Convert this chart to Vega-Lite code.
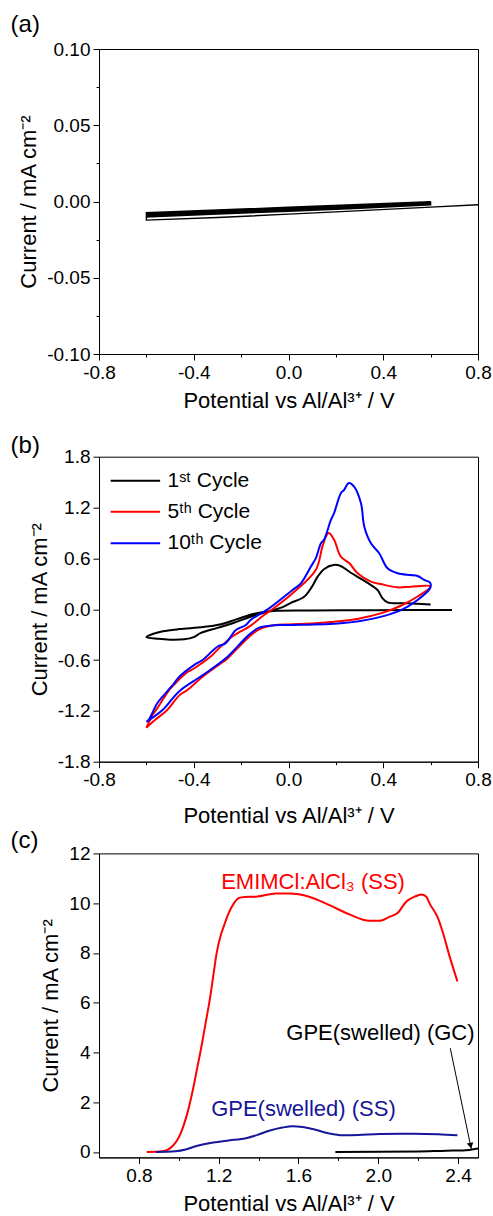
{
  "$schema": "https://vega.github.io/schema/vega-lite/v6.json",
  "padding": {"left": 10, "top": 12, "right": 0, "bottom": 0},
  "spacing": 0.7,
  "config": {
    "font": "Liberation Sans",
    "view": {"stroke": "#000", "strokeWidth": 1},
    "axis": {"domainColor": "#000", "tickColor": "#000", "labelColor": "#000", "titleColor": "#000", "labelFontSize": 19, "titleFontSize": 22, "titleFontWeight": "normal", "grid": false, "labelPadding": 3, "labelFlush": false, "labelOverlap": false, "domainWidth": 1, "tickWidth": 1, "labelFont": "Liberation Sans", "titleFont": "Liberation Sans"},
    "title": {"fontSize": 24, "fontWeight": "normal", "anchor": "start", "frame": "group", "color": "#000", "font": "Liberation Sans"}
  },
  "resolve": {"scale": {"x": "independent", "y": "independent", "color": "independent"}},
  "datasets": {
    "a": [
      {"i":0,"V":0.8,"I":-0.0021},{"i":1,"V":0.6,"I":-0.0037},{"i":2,"V":0.2,"I":-0.0068},{"i":3,"V":0,"I":-0.0083},{"i":4,"V":-0.3,"I":-0.0105},{"i":5,"V":-0.6,"I":-0.0122},
      {"i":6,"V":-0.6,"I":-0.0100},{"i":7,"V":-0.3,"I":-0.0080},{"i":8,"V":0,"I":-0.0060},{"i":9,"V":0.3,"I":-0.0040},{"i":10,"V":0.6,"I":-0.0020},
      {"i":11,"V":0.6,"I":-0.0022},{"i":12,"V":0.3,"I":-0.0044},{"i":13,"V":0,"I":-0.0064},{"i":14,"V":-0.3,"I":-0.0083},{"i":15,"V":-0.6,"I":-0.0102},
      {"i":16,"V":-0.6,"I":-0.0090},{"i":17,"V":-0.3,"I":-0.0071},{"i":18,"V":0,"I":-0.0052},{"i":19,"V":0.3,"I":-0.0033},{"i":20,"V":0.6,"I":-0.0014},
      {"i":21,"V":0.6,"I":-0.0016},{"i":22,"V":0.3,"I":-0.0036},{"i":23,"V":0,"I":-0.0056},{"i":24,"V":-0.3,"I":-0.0076},{"i":25,"V":-0.6,"I":-0.0094},
      {"i":26,"V":-0.6,"I":-0.0084},{"i":27,"V":-0.3,"I":-0.0066},{"i":28,"V":0,"I":-0.0047},{"i":29,"V":0.3,"I":-0.0028},{"i":30,"V":0.6,"I":-0.0009},
      {"i":31,"V":0.6,"I":-0.0011},{"i":32,"V":0.3,"I":-0.0030},{"i":33,"V":0,"I":-0.0050},{"i":34,"V":-0.3,"I":-0.0070},{"i":35,"V":-0.6,"I":-0.0088},
      {"i":36,"V":-0.6,"I":-0.0078},{"i":37,"V":-0.3,"I":-0.0060},{"i":38,"V":0,"I":-0.0042},{"i":39,"V":0.3,"I":-0.0023},{"i":40,"V":0.6,"I":-0.0004},
      {"i":41,"V":0.6,"I":-0.0006},{"i":42,"V":0.3,"I":-0.0025},{"i":43,"V":0,"I":-0.0044},{"i":44,"V":-0.3,"I":-0.0063},{"i":45,"V":-0.6,"I":-0.0082},
      {"i":46,"V":-0.6,"I":-0.0074},{"i":47,"V":-0.3,"I":-0.0056},{"i":48,"V":0,"I":-0.0038},{"i":49,"V":0.3,"I":-0.0019},{"i":50,"V":0.6,"I":-0.0001}
    ],
    "b": [
      {"s":"1st","i":0,"V":0.69,"I":-0.008},{"s":"1st","i":1,"V":0.5,"I":-0.010},{"s":"1st","i":2,"V":0.3,"I":-0.012},{"s":"1st","i":3,"V":0.1,"I":-0.015},{"s":"1st","i":4,"V":-0.05,"I":-0.018},{"s":"1st","i":5,"V":-0.1,"I":-0.03},{"s":"1st","i":6,"V":-0.15,"I":-0.057},{"s":"1st","i":7,"V":-0.22,"I":-0.12},{"s":"1st","i":8,"V":-0.29,"I":-0.18},{"s":"1st","i":9,"V":-0.36,"I":-0.21},{"s":"1st","i":10,"V":-0.46,"I":-0.235},{"s":"1st","i":11,"V":-0.53,"I":-0.26},{"s":"1st","i":12,"V":-0.57,"I":-0.29},{"s":"1st","i":13,"V":-0.6,"I":-0.33},{"s":"1st","i":14,"V":-0.55,"I":-0.35},{"s":"1st","i":15,"V":-0.5,"I":-0.36},{"s":"1st","i":16,"V":-0.44,"I":-0.355},{"s":"1st","i":17,"V":-0.4,"I":-0.33},{"s":"1st","i":18,"V":-0.37,"I":-0.28},{"s":"1st","i":19,"V":-0.3,"I":-0.22},{"s":"1st","i":20,"V":-0.23,"I":-0.16},{"s":"1st","i":21,"V":-0.15,"I":-0.08},{"s":"1st","i":22,"V":-0.09,"I":-0.03},{"s":"1st","i":23,"V":-0.02,"I":0.03},{"s":"1st","i":24,"V":0.01,"I":0.075},{"s":"1st","i":25,"V":0.066,"I":0.148},{"s":"1st","i":26,"V":0.1,"I":0.27},{"s":"1st","i":27,"V":0.123,"I":0.384},{"s":"1st","i":28,"V":0.151,"I":0.475},{"s":"1st","i":29,"V":0.19,"I":0.522},{"s":"1st","i":30,"V":0.22,"I":0.51},{"s":"1st","i":31,"V":0.263,"I":0.43},{"s":"1st","i":32,"V":0.334,"I":0.31},{"s":"1st","i":33,"V":0.376,"I":0.227},{"s":"1st","i":34,"V":0.397,"I":0.128},{"s":"1st","i":35,"V":0.418,"I":0.081},{"s":"1st","i":36,"V":0.5,"I":0.07},{"s":"1st","i":37,"V":0.6,"I":0.055},
      {"s":"5th","i":0,"V":-0.6,"I":-1.40},{"s":"5th","i":1,"V":-0.574,"I":-1.25},{"s":"5th","i":2,"V":-0.554,"I":-1.17},{"s":"5th","i":3,"V":-0.504,"I":-0.954},{"s":"5th","i":4,"V":-0.483,"I":-0.89},{"s":"5th","i":5,"V":-0.434,"I":-0.757},{"s":"5th","i":6,"V":-0.399,"I":-0.70},{"s":"5th","i":7,"V":-0.321,"I":-0.541},{"s":"5th","i":8,"V":-0.30,"I":-0.48},{"s":"5th","i":9,"V":-0.236,"I":-0.32},{"s":"5th","i":10,"V":-0.2,"I":-0.26},{"s":"5th","i":11,"V":-0.166,"I":-0.206},{"s":"5th","i":12,"V":-0.103,"I":-0.069},{"s":"5th","i":13,"V":-0.082,"I":-0.03},{"s":"5th","i":14,"V":0.017,"I":0.187},{"s":"5th","i":15,"V":0.115,"I":0.462},{"s":"5th","i":16,"V":0.143,"I":0.738},{"s":"5th","i":17,"V":0.162,"I":0.88},{"s":"5th","i":18,"V":0.171,"I":0.90},{"s":"5th","i":19,"V":0.193,"I":0.817},{"s":"5th","i":20,"V":0.221,"I":0.62},{"s":"5th","i":21,"V":0.257,"I":0.542},{"s":"5th","i":22,"V":0.292,"I":0.424},{"s":"5th","i":23,"V":0.348,"I":0.325},{"s":"5th","i":24,"V":0.389,"I":0.297},{"s":"5th","i":25,"V":0.461,"I":0.258},{"s":"5th","i":26,"V":0.516,"I":0.266},{"s":"5th","i":27,"V":0.6,"I":0.27},
      {"s":"5th","i":28,"V":0.545,"I":0.15},{"s":"5th","i":29,"V":0.474,"I":0.041},{"s":"5th","i":30,"V":0.403,"I":-0.037},{"s":"5th","i":31,"V":0.333,"I":-0.089},{"s":"5th","i":32,"V":0.262,"I":-0.128},{"s":"5th","i":33,"V":0.192,"I":-0.148},{"s":"5th","i":34,"V":0.115,"I":-0.167},{"s":"5th","i":35,"V":0.0,"I":-0.18},{"s":"5th","i":36,"V":-0.061,"I":-0.19},{"s":"5th","i":37,"V":-0.124,"I":-0.238},{"s":"5th","i":38,"V":-0.166,"I":-0.324},{"s":"5th","i":39,"V":-0.188,"I":-0.384},{"s":"5th","i":40,"V":-0.23,"I":-0.502},{"s":"5th","i":41,"V":-0.265,"I":-0.6},{"s":"5th","i":42,"V":-0.286,"I":-0.639},{"s":"5th","i":43,"V":-0.363,"I":-0.797},{"s":"5th","i":44,"V":-0.427,"I":-0.954},{"s":"5th","i":45,"V":-0.462,"I":-1.02},{"s":"5th","i":46,"V":-0.512,"I":-1.19},{"s":"5th","i":47,"V":-0.56,"I":-1.3},{"s":"5th","i":48,"V":-0.6,"I":-1.40},
      {"s":"10th","i":0,"V":-0.6,"I":-1.33},{"s":"10th","i":1,"V":-0.589,"I":-1.30},{"s":"10th","i":2,"V":-0.554,"I":-1.11},{"s":"10th","i":3,"V":-0.532,"I":-1.033},{"s":"10th","i":4,"V":-0.483,"I":-0.875},{"s":"10th","i":5,"V":-0.462,"I":-0.80},{"s":"10th","i":6,"V":-0.399,"I":-0.66},{"s":"10th","i":7,"V":-0.363,"I":-0.6},{"s":"10th","i":8,"V":-0.30,"I":-0.443},{"s":"10th","i":9,"V":-0.265,"I":-0.40},{"s":"10th","i":10,"V":-0.222,"I":-0.246},{"s":"10th","i":11,"V":-0.18,"I":-0.187},{"s":"10th","i":12,"V":-0.16,"I":-0.128},{"s":"10th","i":13,"V":-0.082,"I":0.01},{"s":"10th","i":14,"V":0.017,"I":0.227},{"s":"10th","i":15,"V":0.051,"I":0.30},{"s":"10th","i":16,"V":0.094,"I":0.50},{"s":"10th","i":17,"V":0.115,"I":0.60},{"s":"10th","i":18,"V":0.137,"I":0.778},{"s":"10th","i":19,"V":0.15,"I":0.82},{"s":"10th","i":20,"V":0.179,"I":1.053},{"s":"10th","i":21,"V":0.192,"I":1.131},{"s":"10th","i":22,"V":0.221,"I":1.368},{"s":"10th","i":23,"V":0.234,"I":1.406},{"s":"10th","i":24,"V":0.255,"I":1.49},{"s":"10th","i":25,"V":0.277,"I":1.446},{"s":"10th","i":26,"V":0.306,"I":1.25},{"s":"10th","i":27,"V":0.32,"I":0.974},{"s":"10th","i":28,"V":0.348,"I":0.778},{"s":"10th","i":29,"V":0.383,"I":0.66},{"s":"10th","i":30,"V":0.418,"I":0.483},{"s":"10th","i":31,"V":0.461,"I":0.424},{"s":"10th","i":32,"V":0.516,"I":0.403},{"s":"10th","i":33,"V":0.545,"I":0.392},{"s":"10th","i":34,"V":0.573,"I":0.345},{"s":"10th","i":35,"V":0.598,"I":0.313},
      {"s":"10th","i":36,"V":0.598,"I":0.25},{"s":"10th","i":37,"V":0.545,"I":0.109},{"s":"10th","i":38,"V":0.475,"I":-0.01},{"s":"10th","i":39,"V":0.362,"I":-0.108},{"s":"10th","i":40,"V":0.221,"I":-0.167},{"s":"10th","i":41,"V":0.01,"I":-0.187},{"s":"10th","i":42,"V":-0.06,"I":-0.19},{"s":"10th","i":43,"V":-0.124,"I":-0.218},{"s":"10th","i":44,"V":-0.166,"I":-0.30},{"s":"10th","i":45,"V":-0.265,"I":-0.58},{"s":"10th","i":46,"V":-0.363,"I":-0.78},{"s":"10th","i":47,"V":-0.462,"I":-0.97},{"s":"10th","i":48,"V":-0.532,"I":-1.19},{"s":"10th","i":49,"V":-0.6,"I":-1.33}
    ],
    "bleg": [
      {"s":"1st","V":-0.751,"V2":-0.542,"I":1.517,"T":-0.511,"label":"1ˢᵗ Cycle"},
      {"s":"5th","V":-0.751,"V2":-0.542,"I":1.151,"T":-0.511,"label":"5ᵗʰ Cycle"},
      {"s":"10th","V":-0.751,"V2":-0.542,"I":0.778,"T":-0.511,"label":"10ᵗʰ Cycle"}
    ],
    "c": [
      {"s":"EMIM","V":0.839,"I":0.0},{"s":"EMIM","V":0.918,"I":0.03},{"s":"EMIM","V":0.968,"I":0.23},{"s":"EMIM","V":1.01,"I":0.76},{"s":"EMIM","V":1.043,"I":1.56},{"s":"EMIM","V":1.068,"I":2.4},{"s":"EMIM","V":1.093,"I":3.4},{"s":"EMIM","V":1.115,"I":4.3},{"s":"EMIM","V":1.135,"I":5.2},{"s":"EMIM","V":1.157,"I":6.2},{"s":"EMIM","V":1.175,"I":7.2},{"s":"EMIM","V":1.19,"I":8.0},{"s":"EMIM","V":1.21,"I":8.7},{"s":"EMIM","V":1.227,"I":9.1},{"s":"EMIM","V":1.25,"I":9.6},{"s":"EMIM","V":1.277,"I":10.0},{"s":"EMIM","V":1.3,"I":10.2},{"s":"EMIM","V":1.33,"I":10.25},{"s":"EMIM","V":1.386,"I":10.26},{"s":"EMIM","V":1.487,"I":10.39},{"s":"EMIM","V":1.554,"I":10.39},{"s":"EMIM","V":1.654,"I":10.26},{"s":"EMIM","V":1.755,"I":9.92},{"s":"EMIM","V":1.855,"I":9.55},{"s":"EMIM","V":1.956,"I":9.29},{"s":"EMIM","V":2.006,"I":9.29},{"s":"EMIM","V":2.056,"I":9.45},{"s":"EMIM","V":2.098,"I":9.61},{"s":"EMIM","V":2.14,"I":10.06},{"s":"EMIM","V":2.182,"I":10.26},{"s":"EMIM","V":2.216,"I":10.35},{"s":"EMIM","V":2.241,"I":10.26},{"s":"EMIM","V":2.257,"I":9.99},{"s":"EMIM","V":2.3,"I":9.39},{"s":"EMIM","V":2.325,"I":8.79},{"s":"EMIM","V":2.358,"I":7.85},{"s":"EMIM","V":2.397,"I":6.85},
      {"s":"GPE_SS","V":0.884,"I":0.0},{"s":"GPE_SS","V":0.984,"I":0.03},{"s":"GPE_SS","V":1.035,"I":0.1},{"s":"GPE_SS","V":1.085,"I":0.23},{"s":"GPE_SS","V":1.185,"I":0.39},{"s":"GPE_SS","V":1.25,"I":0.46},{"s":"GPE_SS","V":1.336,"I":0.55},{"s":"GPE_SS","V":1.40,"I":0.7},{"s":"GPE_SS","V":1.453,"I":0.85},{"s":"GPE_SS","V":1.52,"I":0.98},{"s":"GPE_SS","V":1.571,"I":1.03},{"s":"GPE_SS","V":1.62,"I":1.0},{"s":"GPE_SS","V":1.671,"I":0.92},{"s":"GPE_SS","V":1.75,"I":0.75},{"s":"GPE_SS","V":1.822,"I":0.67},{"s":"GPE_SS","V":1.9,"I":0.68},{"s":"GPE_SS","V":2.006,"I":0.72},{"s":"GPE_SS","V":2.174,"I":0.73},{"s":"GPE_SS","V":2.3,"I":0.71},{"s":"GPE_SS","V":2.397,"I":0.67},
      {"s":"GPE_GC","V":1.785,"I":0.0},{"s":"GPE_GC","V":2.0,"I":0.01},{"s":"GPE_GC","V":2.2,"I":0.02},{"s":"GPE_GC","V":2.341,"I":0.05},{"s":"GPE_GC","V":2.425,"I":0.06},{"s":"GPE_GC","V":2.5,"I":0.14}
    ],
    "clab": [
      {"s":"EMIM","V":1.673,"I":10.57,"label":"EMIMCl:AlCl₃ (SS)"},
      {"s":"GPE_GC","V":2.011,"I":4.48,"label":"GPE(swelled) (GC)"},
      {"s":"GPE_SS","V":1.625,"I":1.43,"label":"GPE(swelled) (SS)"}
    ],
    "carrow": [{"V":2.361,"I":4.17,"V2":2.467,"I2":0.09}],
    "chead": [{"V":2.463,"I":0.25}]
  },
  "vconcat": [
    {
      "title": {"text": "(a)", "offset": 3, "dx": -88.4},
      "width": 379, "height": 305,
      "data": {"name": "a"},
      "mark": {"type": "line", "color": "#000", "strokeWidth": 1.4},
      "encoding": {
        "x": {"field": "V", "type": "quantitative", "scale": {"domain": [-0.8, 0.8], "nice": false},
          "axis": {"title": ["Potential vs Al/Al³⁺ / V", " "], "titleLineHeight": 21.2, "titlePadding": 8, "values": [-0.8,-0.6,-0.4,-0.2,0,0.2,0.4,0.6,0.8],
            "labelExpr": "round(datum.value*10) % 4 == 0 ? replace(format(datum.value, '.1f'), '−', '-') : ''",
            "tickSize": {"condition": {"test": "round(datum.value*10) % 4 == 0", "value": 6}, "value": 3}}},
        "y": {"field": "I", "type": "quantitative", "scale": {"domain": [-0.1, 0.1], "nice": false},
          "axis": {"title": "Current / mA cm⁻²", "titlePadding": 6, "values": [-0.1,-0.075,-0.05,-0.025,0,0.025,0.05,0.075,0.1],
            "labelExpr": "round(datum.value*40) % 2 == 0 ? replace(format(datum.value, '.2f'), '−', '-') : ''",
            "tickSize": {"condition": {"test": "round(datum.value*40) % 2 == 0", "value": 6}, "value": 3}}},
        "order": {"field": "i", "type": "quantitative"}
      }
    },
    {
      "title": {"text": "(b)", "offset": -10.5, "dx": -88.4},
      "width": 379, "height": 305,
      "layer": [
        {
          "data": {"name": "b"},
          "mark": {"type": "line", "strokeWidth": 2, "interpolate": "catmull-rom"},
          "encoding": {
            "x": {"field": "V", "type": "quantitative", "scale": {"domain": [-0.8, 0.8], "nice": false},
              "axis": {"title": "Potential vs Al/Al³⁺ / V", "titlePadding": 16, "values": [-0.8,-0.6,-0.4,-0.2,0,0.2,0.4,0.6,0.8],
                "labelExpr": "round(datum.value*10) % 4 == 0 ? replace(format(datum.value, '.1f'), '−', '-') : ''",
                "tickSize": {"condition": {"test": "round(datum.value*10) % 4 == 0", "value": 6}, "value": 3}}},
            "y": {"field": "I", "type": "quantitative", "scale": {"domain": [-1.8, 1.8], "nice": false},
              "axis": {"title": "Current / mA cm⁻²", "titlePadding": 6, "values": [-1.8,-1.5,-1.2,-0.9,-0.6,-0.3,0,0.3,0.6,0.9,1.2,1.5,1.8],
                "labelExpr": "round(datum.value*10) % 6 == 0 ? replace(format(datum.value, '.1f'), '−', '-') : ''",
                "tickSize": {"condition": {"test": "round(datum.value*10) % 6 == 0", "value": 6}, "value": 3}}},
            "color": {"field": "s", "type": "nominal", "scale": {"domain": ["1st", "5th", "10th"], "range": ["#000000", "#ff0000", "#0000ff"]}, "legend": null},
            "detail": {"field": "s"},
            "order": {"field": "i", "type": "quantitative"}
          }
        },
        {
          "data": {"name": "bleg"},
          "mark": {"type": "rule", "strokeWidth": 2},
          "encoding": {
            "x": {"field": "V", "type": "quantitative"},
            "x2": {"field": "V2"},
            "y": {"field": "I", "type": "quantitative"},
            "color": {"field": "s", "type": "nominal", "scale": {"domain": ["1st", "5th", "10th"], "range": ["#000000", "#ff0000", "#0000ff"]}, "legend": null}
          }
        },
        {
          "data": {"name": "bleg"},
          "mark": {"type": "text", "align": "left", "baseline": "middle", "fontSize": 21, "font": "Liberation Sans", "color": "#000"},
          "encoding": {
            "x": {"field": "T", "type": "quantitative"},
            "y": {"field": "I", "type": "quantitative"},
            "text": {"field": "label"}
          }
        }
      ]
    },
    {
      "title": {"text": "(c)", "offset": -8.5, "dx": -88.4},
      "width": 379, "height": 304,
      "layer": [
        {
          "data": {"name": "c"},
          "mark": {"type": "line", "strokeWidth": 2, "interpolate": "monotone"},
          "encoding": {
            "x": {"field": "V", "type": "quantitative", "scale": {"domain": [0.6, 2.5], "nice": false},
              "axis": {"title": "Potential vs Al/Al³⁺ / V", "titlePadding": 8, "values": [0.8,1.0,1.2,1.4,1.6,1.8,2.0,2.2,2.4],
                "labelExpr": "round(datum.value*10) % 4 == 0 ? format(datum.value, '.1f') : ''",
                "tickSize": {"condition": {"test": "round(datum.value*10) % 4 == 0", "value": 6}, "value": 3}}},
            "y": {"field": "I", "type": "quantitative", "scale": {"domain": [-0.22, 12], "nice": false},
              "axis": {"title": "Current / mA cm⁻²", "titlePadding": 6, "values": [0,1,2,3,4,5,6,7,8,9,10,11,12],
                "labelExpr": "datum.value % 2 == 0 ? format(datum.value, 'd') : ''",
                "tickSize": {"condition": {"test": "datum.value % 2 == 0", "value": 6}, "value": 3}}},
            "color": {"field": "s", "type": "nominal", "scale": {"domain": ["EMIM", "GPE_SS", "GPE_GC"], "range": ["#ff0000", "#16169a", "#000000"]}, "legend": null}
          }
        },
        {
          "data": {"name": "clab"},
          "mark": {"type": "text", "align": "center", "baseline": "alphabetic", "fontSize": 22, "font": "Liberation Sans"},
          "encoding": {
            "x": {"field": "V", "type": "quantitative"},
            "y": {"field": "I", "type": "quantitative"},
            "text": {"field": "label"},
            "color": {"field": "s", "type": "nominal", "scale": {"domain": ["EMIM", "GPE_SS", "GPE_GC"], "range": ["#ff0000", "#16169a", "#000000"]}, "legend": null}
          }
        },
        {
          "data": {"name": "carrow"},
          "mark": {"type": "rule", "color": "#000", "strokeWidth": 1},
          "encoding": {
            "x": {"field": "V", "type": "quantitative"},
            "y": {"field": "I", "type": "quantitative"},
            "x2": {"field": "V2"},
            "y2": {"field": "I2"}
          }
        },
        {
          "data": {"name": "chead"},
          "mark": {"type": "point", "shape": "triangle-down", "filled": true, "color": "#000", "size": 45, "angle": 348, "opacity": 1},
          "encoding": {
            "x": {"field": "V", "type": "quantitative"},
            "y": {"field": "I", "type": "quantitative"}
          }
        }
      ]
    }
  ]
}
